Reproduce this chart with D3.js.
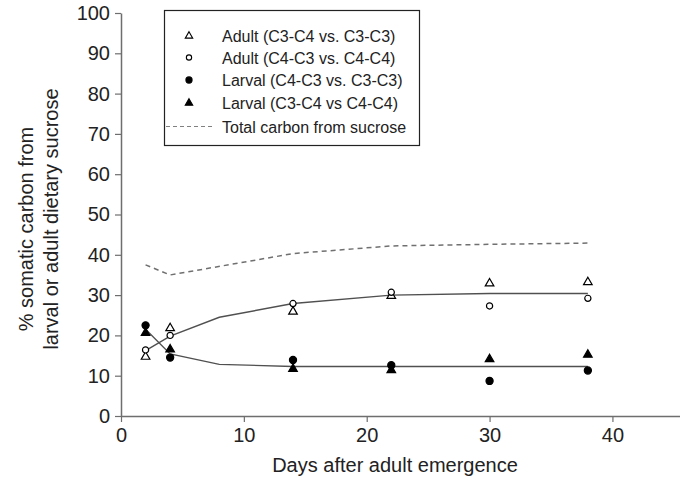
<!DOCTYPE html>
<html>
<head>
<meta charset="utf-8">
<script src="https://cdn.jsdelivr.net/npm/d3@7"></script>
<style>
  body { margin: 0; padding: 0; background: #fff; }
  svg { display: block; font-family: "Liberation Sans", Arial, sans-serif; }
</style>
</head>
<body>
<div id="chart"></div>
<script>
// values
var days = [2, 4, 14, 22, 30, 38];
var adultC3C4 = [14.7, 21.8, 25.9, 29.8, 32.9, 33.2];   // open triangles
var adultC4C3 = [16.4, 20.0, 27.9, 30.7, 27.3, 29.2];   // open circles
var larvalC4C3 = [22.5, 14.5, 13.9, 12.6, 8.7, 11.3];   // filled circles
var larvalC3C4 = [20.6, 16.5, 11.7, 11.4, 14.1, 15.2];  // filled triangles

var fitDays = [2, 4, 8, 14, 22, 30, 38];
var adultFit = [16.2, 19.8, 24.5, 27.9, 30.0, 30.4, 30.4];
var larvalFit = [21.5, 15.4, 12.8, 12.3, 12.3, 12.3, 12.3];
var totalCarbon = [37.5, 35.0, 40.3, 42.2, 42.6, 42.9];

var xTicks = [0, 10, 20, 30, 40];
var yTicks = [0, 10, 20, 30, 40, 50, 60, 70, 80, 90, 100];

var legendLabels = [
  "Adult (C3-C4 vs. C3-C3)",
  "Adult (C4-C3 vs. C4-C4)",
  "Larval (C4-C3 vs. C3-C3)",
  "Larval (C3-C4 vs C4-C4)",
  "Total carbon from sucrose"
];

var W = 680, H = 479;
var svg = d3.select("#chart").append("svg").attr("width", W).attr("height", H);

var x = d3.scaleLinear().domain([0, 45.5]).range([121, 680]);
var y = d3.scaleLinear().domain([0, 100]).range([416, 13]);

var axisColor = "#6e6e6e", textColor = "#222";

// axes
var xAxis = svg.append("g").attr("transform", "translate(0," + y(0) + ")")
  .call(d3.axisBottom(x).tickValues(xTicks).tickSize(6).tickPadding(6).tickSizeOuter(0));
var yAxis = svg.append("g").attr("transform", "translate(" + x(0) + ",0)")
  .call(d3.axisLeft(y).tickValues(yTicks).tickSize(6).tickPadding(5).tickSizeOuter(0));

[xAxis, yAxis].forEach(function(a) {
  a.select(".domain").attr("stroke", axisColor).attr("stroke-width", 1.5);
  a.selectAll(".tick line").attr("stroke", axisColor).attr("stroke-width", 1.2);
  a.selectAll(".tick text").attr("fill", textColor).attr("font-size", 20)
    .attr("font-family", "Liberation Sans, Arial, sans-serif");
});

// axis titles
svg.append("text").attr("x", 395).attr("y", 472).attr("text-anchor", "middle")
  .attr("font-size", 20).attr("fill", textColor).text("Days after adult emergence");

var yt = svg.append("text").attr("transform", "rotate(-90)").attr("text-anchor", "middle")
  .attr("font-size", 20).attr("fill", textColor);
yt.append("tspan").attr("x", -229).attr("y", 33).text("% somatic carbon from");
yt.append("tspan").attr("x", -219).attr("y", 58).text("larval or adult dietary sucrose");

// lines
var line = d3.line().x(function(d) { return x(d[0]); }).y(function(d) { return y(d[1]); });

svg.append("path").datum(d3.zip(days, totalCarbon)).attr("d", line)
  .attr("fill", "none").attr("stroke", "#707070").attr("stroke-width", 1.5)
  .attr("stroke-dasharray", "5,4");
svg.append("path").datum(d3.zip(fitDays, adultFit)).attr("d", line)
  .attr("fill", "none").attr("stroke", "#505050").attr("stroke-width", 1.4);
svg.append("path").datum(d3.zip(fitDays, larvalFit)).attr("d", line)
  .attr("fill", "none").attr("stroke", "#505050").attr("stroke-width", 1.4);

// markers
var tri = d3.symbol().type(d3.symbolTriangle).size(32);
function drawMarkers(vals, kind, filled) {
  var g = svg.append("g");
  var sel = g.selectAll("path").data(d3.zip(days, vals)).enter().append("path")
    .attr("transform", function(d) { return "translate(" + x(d[0]) + "," + y(d[1]) + ")"; })
    .attr("fill", filled ? "#000" : "#fff")
    .attr("stroke", "#000").attr("stroke-width", 1.2);
  if (kind === "tri") sel.attr("d", tri);
  else sel.attr("d", d3.symbol().type(d3.symbolCircle).size(filled ? 40 : 30));
}
drawMarkers(adultC3C4, "tri", false);
drawMarkers(adultC4C3, "circle", false);
drawMarkers(larvalC4C3, "circle", true);
drawMarkers(larvalC3C4, "tri", true);

// legend
var lg = svg.append("g");
lg.append("rect").attr("x", 164.5).attr("y", 10.5).attr("width", 255).attr("height", 135)
  .attr("fill", "#fff").attr("stroke", "#222").attr("stroke-width", 1.2);
var rowY = [36, 57.5, 80, 103, 126.5];
var kinds = [["tri", false], ["circle", false], ["circle", true], ["tri", true], ["dash"]];
kinds.forEach(function(k, i) {
  if (k[0] === "dash") {
    lg.append("line").attr("x1", 166).attr("x2", 214).attr("y1", rowY[i]).attr("y2", rowY[i])
      .attr("stroke", "#808080").attr("stroke-width", 1.2).attr("stroke-dasharray", "4,3");
  } else {
    lg.append("path").attr("transform", "translate(189," + rowY[i] + ")")
      .attr("d", k[0] === "tri" ? d3.symbol().type(d3.symbolTriangle).size(24)
                                : d3.symbol().type(d3.symbolCircle).size(k[1] ? 30 : 22))
      .attr("fill", k[1] ? "#000" : "#fff").attr("stroke", "#000").attr("stroke-width", 1.1);
  }
  lg.append("text").attr("x", 222).attr("y", rowY[i] + 6).attr("font-size", 16)
    .attr("fill", textColor).text(legendLabels[i]);
});
</script>
</body>
</html>
